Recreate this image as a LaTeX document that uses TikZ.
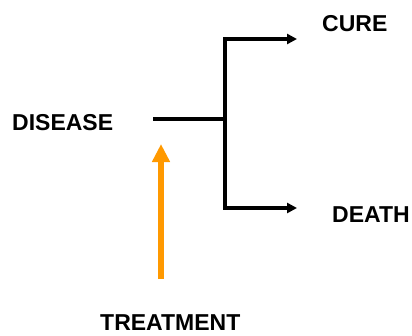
\documentclass[tikz,border=0pt]{standalone}
\usepackage{fontspec}
\setmainfont{Liberation Sans}
\usepackage{tikz}
\usetikzlibrary{arrows.meta,positioning}
\definecolor{torange}{HTML}{FF9900}
\tikzset{
  tlbl/.style={font=\fontsize{23}{27}\selectfont\bfseries, inner sep=0pt, anchor=west},
  tline/.style={black, line width=3.3pt, line join=miter},
  tflow/.style={tline, -{Triangle[length=10pt,width=10pt]}},
  ttreat/.style={torange, line width=6pt, -{Triangle[length=18pt,width=17pt]}},
}
\begin{document}
\begin{tikzpicture}[x=1pt,y=-1pt]
  \useasboundingbox (0,0) rectangle (412,335);

  % labels
  \node[tlbl] (disease)   at (12,123)  {DISEASE};
  \node[tlbl] (cure)      at (322,23.5) {CURE};
  \node[tlbl] (death)     at (332,215) {DEATH};
  \node[tlbl] (treatment) at (100,323) {TREATMENT};

  % branching points
  \coordinate (stem)     at (153,119);
  \coordinate (fork)     at (225,119);
  \coordinate (cureend)  at (297,39);
  \coordinate (deathend) at (297,208);
  \coordinate (tstart)   at (161,279);
  \coordinate (tend)     at (161,144);

  % outcomes
  \draw[tline] (stem) -- (fork);
  \draw[tflow] (fork) |- (cureend);
  \draw[tflow] (fork) |- (deathend);

  % intervention
  \draw[ttreat] (tstart) -- (tend);

\end{tikzpicture}
\end{document}
